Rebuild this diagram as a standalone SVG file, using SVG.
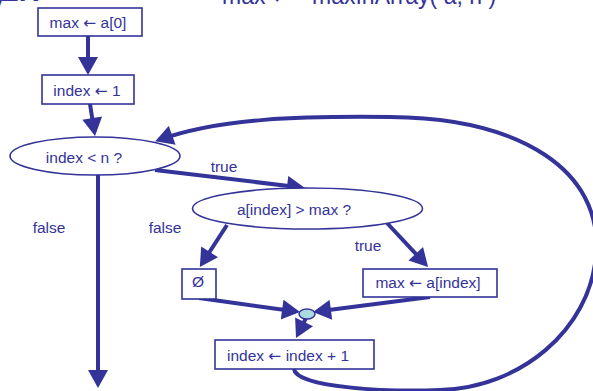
<svg xmlns="http://www.w3.org/2000/svg" width="593" height="391" viewBox="0 0 593 391">
<style>
text{font-family:"Liberation Sans",Arial,sans-serif;fill:#333399;font-size:15.5px}
.m{text-anchor:middle}
.ar{font-family:"DejaVu Sans",sans-serif}
.box{fill:#fff;stroke:#333399;stroke-width:1.6}
.c{fill:none;stroke:#333399;stroke-width:4}
</style>
<defs>
<marker id="ah" markerUnits="userSpaceOnUse" markerWidth="20" markerHeight="20" viewBox="0 0 18 20" refX="14" refY="10" orient="auto">
<path d="M0,0 L18,10 L0,20 z" fill="#333399"/>
</marker>
</defs>
<g id="title">
<text x="0" y="1" style="font-size:28px;font-weight:bold">ER</text>
<text x="-9" y="12" style="font-size:22px">y</text>
<text x="222" y="4" style="font-size:23px">max <tspan class="ar">←</tspan><tspan x="312">maxInArray( a, n )</tspan></text>
</g>
<g id="connectors">
<path class="c" d="M88,36 L88,71" marker-end="url(#ah)"/>
<path class="c" d="M90,104 L94.4,132" marker-end="url(#ah)"/>
<path class="c" d="M155,170 L301,187.5" marker-end="url(#ah)"/>
<path class="c" d="M227,225 L202,263.6" marker-end="url(#ah)"/>
<path class="c" d="M387,223 L425.3,264" marker-end="url(#ah)"/>
<path class="c" d="M199,298 L296,311.5" marker-end="url(#ah)"/>
<path class="c" d="M430,297 L317,311.5" marker-end="url(#ah)"/>
<path class="c" d="M306,318 L297.8,334.4" marker-end="url(#ah)"/>
<path class="c" d="M98,175 L98,384" marker-end="url(#ah)"/>
<path class="c" d="M294,369 C296,388 390,392 440,390 C520,388 590,330 596,255 C603,170 520,118 390,117 C300,116 220,118 159,140" marker-end="url(#ah)"/>
<text x="224" y="172" class="m">true</text>
<text x="49" y="233" class="m">false</text>
<text x="165" y="233" class="m">false</text>
<text x="368" y="251" class="m">true</text>
</g>
<g id="n1"><rect class="box" x="38" y="8" width="104" height="28"/><text x="88" y="28" class="m">max <tspan class="ar">←</tspan> a[0]</text></g>
<g id="n2"><rect class="box" x="42" y="75" width="92" height="29"/><text x="87" y="96" class="m">index <tspan class="ar">←</tspan> 1</text></g>
<g id="n3"><ellipse class="box" cx="95" cy="156" rx="85" ry="19"/><text x="84" y="163" class="m">index &lt; n ?</text></g>
<g id="n4"><ellipse class="box" cx="307.5" cy="208.5" rx="115" ry="20.5"/><text x="294" y="215" class="m">a[index] &gt; max ?</text></g>
<g id="n5"><rect class="box" x="182" y="269" width="34" height="30"/><text x="198" y="287" class="m">Ø</text></g>
<g id="n6"><rect class="box" x="363" y="269" width="134" height="28"/><text x="428" y="288" class="m">max <tspan class="ar">←</tspan> a[index]</text></g>
<g id="n7"><ellipse cx="307" cy="314" rx="8" ry="5" fill="#a8dce0" stroke="#333399" stroke-width="1.5"/></g>
<g id="n8"><rect class="box" x="215" y="340" width="159" height="29"/><text x="288" y="361" class="m">index <tspan class="ar">←</tspan> index + 1</text></g>
</svg>
